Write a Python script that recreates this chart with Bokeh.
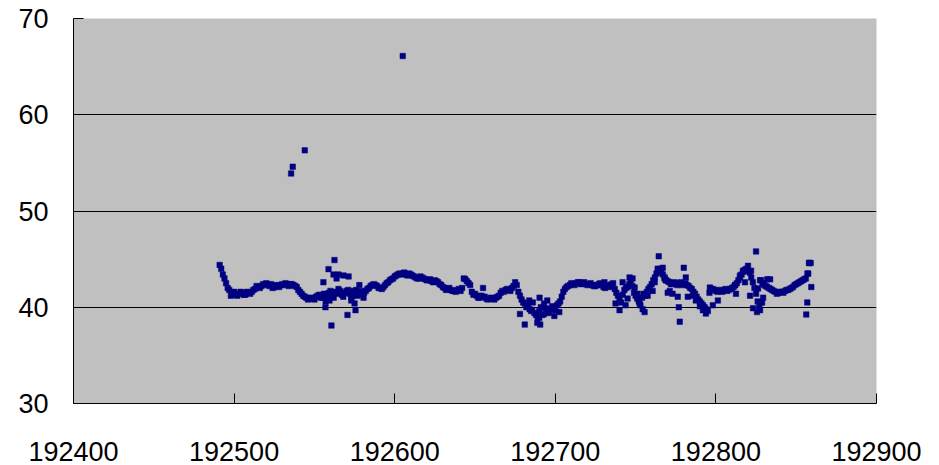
from bokeh.plotting import figure
from bokeh.models import FixedTicker, Range1d
from bokeh.embed import file_html
from bokeh.resources import INLINE

# main trace (odd x, step 2)
main_x = list(range(192491, 192860, 2))
main_y = [44.4, 43.4, 42.5, 41.8, 41.4, 41.3, 41.4, 41.5, 41.3, 41.5,
          41.6, 41.9, 42.1, 42.2, 42.3, 42.4, 42.4, 42.1, 42.2, 42.3,
          42.3, 42.4, 42.4, 42.3, 42.1, 41.6, 41.2, 41.0, 40.9, 40.9,
          41.1, 41.3, 41.0, 40.6, 41.5, 41.2, 41.6, 41.9, 41.3, 41.5,
          41.8, 41.0, 41.6, 41.2, 41.7, 41.5, 41.9, 42.2, 42.4, 42.2,
          42.0, 42.1, 42.5, 42.8, 43.0, 43.3, 43.5, 43.5, 43.4, 43.5,
          43.3, 43.1, 43.0, 43.1, 42.9, 42.8, 42.7, 42.8, 42.6, 42.3,
          42.0, 41.9, 41.8, 41.7, 41.8, 41.7, 43.0, 42.7, 42.3, 41.3,
          41.2, 41.0, 42.0, 40.9, 40.9, 40.9, 41.0, 41.2, 41.7, 41.8,
          41.8, 42.0, 42.6, 41.6, 40.8, 40.4, 40.2, 39.6, 39.4, 39.0,
          40.0, 39.3, 39.6, 39.8, 39.9, 40.2, 40.6, 41.6, 42.1, 42.3,
          42.4, 42.5, 42.6, 42.5, 42.4, 42.4, 42.3, 42.2, 42.4, 42.3,
          42.0, 42.2, 42.4, 41.9, 41.2, 40.5, 41.8, 42.1, 42.8, 41.5,
          40.9, 40.2, 41.4, 41.6, 42.1, 42.8, 43.5, 44.0, 43.4, 42.8,
          42.6, 42.5, 42.4, 42.5, 42.3, 42.5, 42.2, 41.9, 41.4, 40.8,
          40.4, 40.0, 39.6, 41.9, 41.8, 41.6, 41.7, 41.8, 41.7, 41.9,
          42.1, 42.5, 43.1, 43.7, 44.0, 43.6, 42.6, 41.4, 40.0, 42.5,
          42.2, 42.0, 41.8, 41.6, 41.5, 41.6, 41.7, 41.8, 42.0, 42.3,
          42.5, 42.7, 42.9, 43.5, 44.6]

# second trace (even x, step 2)
even_x = list(range(192492, 192859, 2))
even_y = [44.0, 43.0, 42.0, 41.2, 41.6, 41.2, 41.6, 41.3, 41.6, 41.4,
          41.8, 42.2, 42.0, 42.4, 42.5, 42.2, 42.0, 42.3, 42.1, 42.4,
          42.5, 42.2, 42.4, 42.2, 41.8, 41.4, 41.1, 40.8, 41.0, 40.8,
          41.2, 41.0, 41.4, 41.0, 41.7, 41.0, 41.4, 41.7, 41.1, 41.7,
          41.4, 41.2, 41.8, 41.5, 41.4, 41.7, 42.0, 42.3, 42.3, 42.0,
          41.9, 42.3, 42.6, 42.9, 43.2, 43.4, 43.4, 43.6, 43.3, 43.4,
          43.2, 43.0, 43.2, 43.0, 42.8, 42.9, 42.6, 42.7, 42.4, 42.1,
          41.8, 42.0, 41.7, 41.6, 41.9, 42.0, 42.9, 42.5, 41.6, 41.4,
          41.0, 41.2, 41.1, 40.8, 41.0, 40.8, 41.1, 41.5, 41.6, 41.9,
          41.7, 42.2, 42.3, 41.2, 40.5, 40.0, 39.8, 40.5, 39.2, 39.6,
          39.2, 39.9, 39.4, 40.1, 39.7, 40.4, 41.1, 41.9, 42.2, 42.5,
          42.3, 42.6, 42.4, 42.6, 42.3, 42.5, 42.2, 42.3, 42.5, 42.1,
          42.3, 42.1, 42.5, 41.5, 40.9, 41.3, 42.0, 42.4, 42.2, 41.2,
          40.6, 41.0, 41.2, 41.9, 42.4, 43.1, 43.8, 43.7, 43.0, 42.7,
          42.4, 42.6, 42.3, 42.6, 42.4, 42.3, 42.0, 41.6, 41.1, 40.6,
          40.2, 39.8, 41.5, 41.9, 41.7, 41.8, 41.6, 41.9, 41.8, 42.0,
          42.3, 42.8, 43.4, 43.9, 43.8, 43.1, 42.0, 40.6, 42.8, 42.3,
          42.1, 41.9, 41.7, 41.4, 41.6, 41.5, 41.8, 41.9, 42.1, 42.4,
          42.6, 42.8, 43.0, 44.6]

# scattered extra readings
extra_x = [192535.5, 192536.5, 192544, 192605,
           192562.5, 192558.8, 192561.9, 192565, 192568.1, 192571.3, 192555.6,
           192559.4, 192556.9, 192560.6, 192570.6, 192575.6, 192563.8, 192574.4,
           192578, 192573, 192575, 192580.6,
           192678, 192681, 192685.6, 192690, 192688.8, 192690.6, 192690.2,
           192693, 192696, 192699.4, 192702.5, 192683.8, 192695,
           192737.5, 192740, 192743.75, 192746.25, 192748.1, 192749.4, 192745,
           192751.25, 192752.5, 192754.4, 192755.6, 192757.5, 192760.6, 192761.9,
           192763.75, 192765.6, 192764.4, 192768.75, 192771.25, 192773, 192741.9,
           192730.6,
           192766.9, 192768.1, 192770, 192780, 192781.25, 192782.5, 192776.25,
           192776.9, 192777.5, 192785.6, 192787.5, 192790, 192791.9, 192793.75,
           192796.25, 192798.1, 192801.25, 192811.9, 192812.5, 192815, 192816.9,
           192820, 192821.9, 192825, 192818.1, 192821.25, 192823.1, 192825.6,
           192827.5, 192827.5, 192826.25, 192828.1,
           192829.4, 192833.75, 192831.9, 192829.4, 192828.75,
           192856.9, 192856.25, 192858.1, 192859.4, 192857.5]
extra_y = [53.9, 54.6, 56.3, 66.1,
           44.9, 43.96, 43.4, 43.4, 43.3, 43.2, 42.6,
           40.7, 40.0, 38.1, 39.2, 39.7, 43.0, 41.7,
           42.3, 40.7, 40.4, 41.0,
           39.3, 38.2, 39.7, 38.9, 38.4, 38.2, 41.0,
           40.4, 39.7, 39.1, 39.5, 40.7, 40.7,
           40.4, 39.7, 40.2, 43.1, 43.0, 42.05, 40.9,
           41.4, 40.4, 39.8, 39.5, 41.2, 41.7, 42.6,
           44.0, 43.6, 45.3, 42.8, 41.7, 41.4, 42.6,
           42.6,
           44.1, 43.1, 41.5, 44.1, 43.1, 41.1, 41.1,
           40.0, 38.5, 41.2, 40.7, 40.1, 39.7, 39.35,
           42.05, 40.2, 40.7, 42.3, 41.4, 43.3, 43.8,
           44.3, 43.8, 45.8, 42.6, 41.2, 39.9, 39.5,
           39.7, 42.8, 41.95, 40.5,
           42.5, 42.9, 42.9, 41.0, 40.5,
           40.5, 39.25, 44.6, 42.1, 43.5]

x_ticks = [192400, 192500, 192600, 192700, 192800, 192900]
x_tick_labels = ["192400", "192500", "192600", "192700", "192800", "192900"]
y_ticks = [30, 40, 50, 60, 70]

p = figure(width=939, height=465, output_backend="svg", toolbar_location=None,
           x_range=Range1d(192400, 192900), y_range=Range1d(30, 70),
           min_border_left=73, min_border_right=63, min_border_top=18,
           min_border_bottom=62)

p.background_fill_color = "#C0C0C0"
p.border_fill_color = "white"
p.outline_line_color = None

for xs, ys in ((main_x, main_y), (even_x, even_y), (extra_x, extra_y)):
    p.scatter(xs, ys, marker="square", size=5.5, fill_color="#000080",
              line_color="#000080", line_width=0.5)

p.xaxis.ticker = FixedTicker(ticks=x_ticks)
p.xaxis.major_label_overrides = {t: s for t, s in zip(x_ticks, x_tick_labels)}
p.yaxis.ticker = FixedTicker(ticks=y_ticks)
p.xgrid.visible = False
p.ygrid.ticker = FixedTicker(ticks=[40, 50, 60])
p.ygrid.grid_line_color = "black"
p.ygrid.grid_line_width = 1

for ax in (p.xaxis, p.yaxis):
    ax.axis_line_color = "black"
    ax.axis_line_width = 1
    ax.major_tick_line_color = "black"
    ax.major_tick_in = 10
    ax.major_tick_out = 0
    ax.minor_tick_line_color = None
    ax.major_label_text_font = "Liberation Sans"
    ax.major_label_text_font_size = "27px"
    ax.major_label_text_color = "black"

p.xaxis.major_label_standoff = 38
p.yaxis.major_label_standoff = 25

open("out.html", "w").write(file_html(p, INLINE))
